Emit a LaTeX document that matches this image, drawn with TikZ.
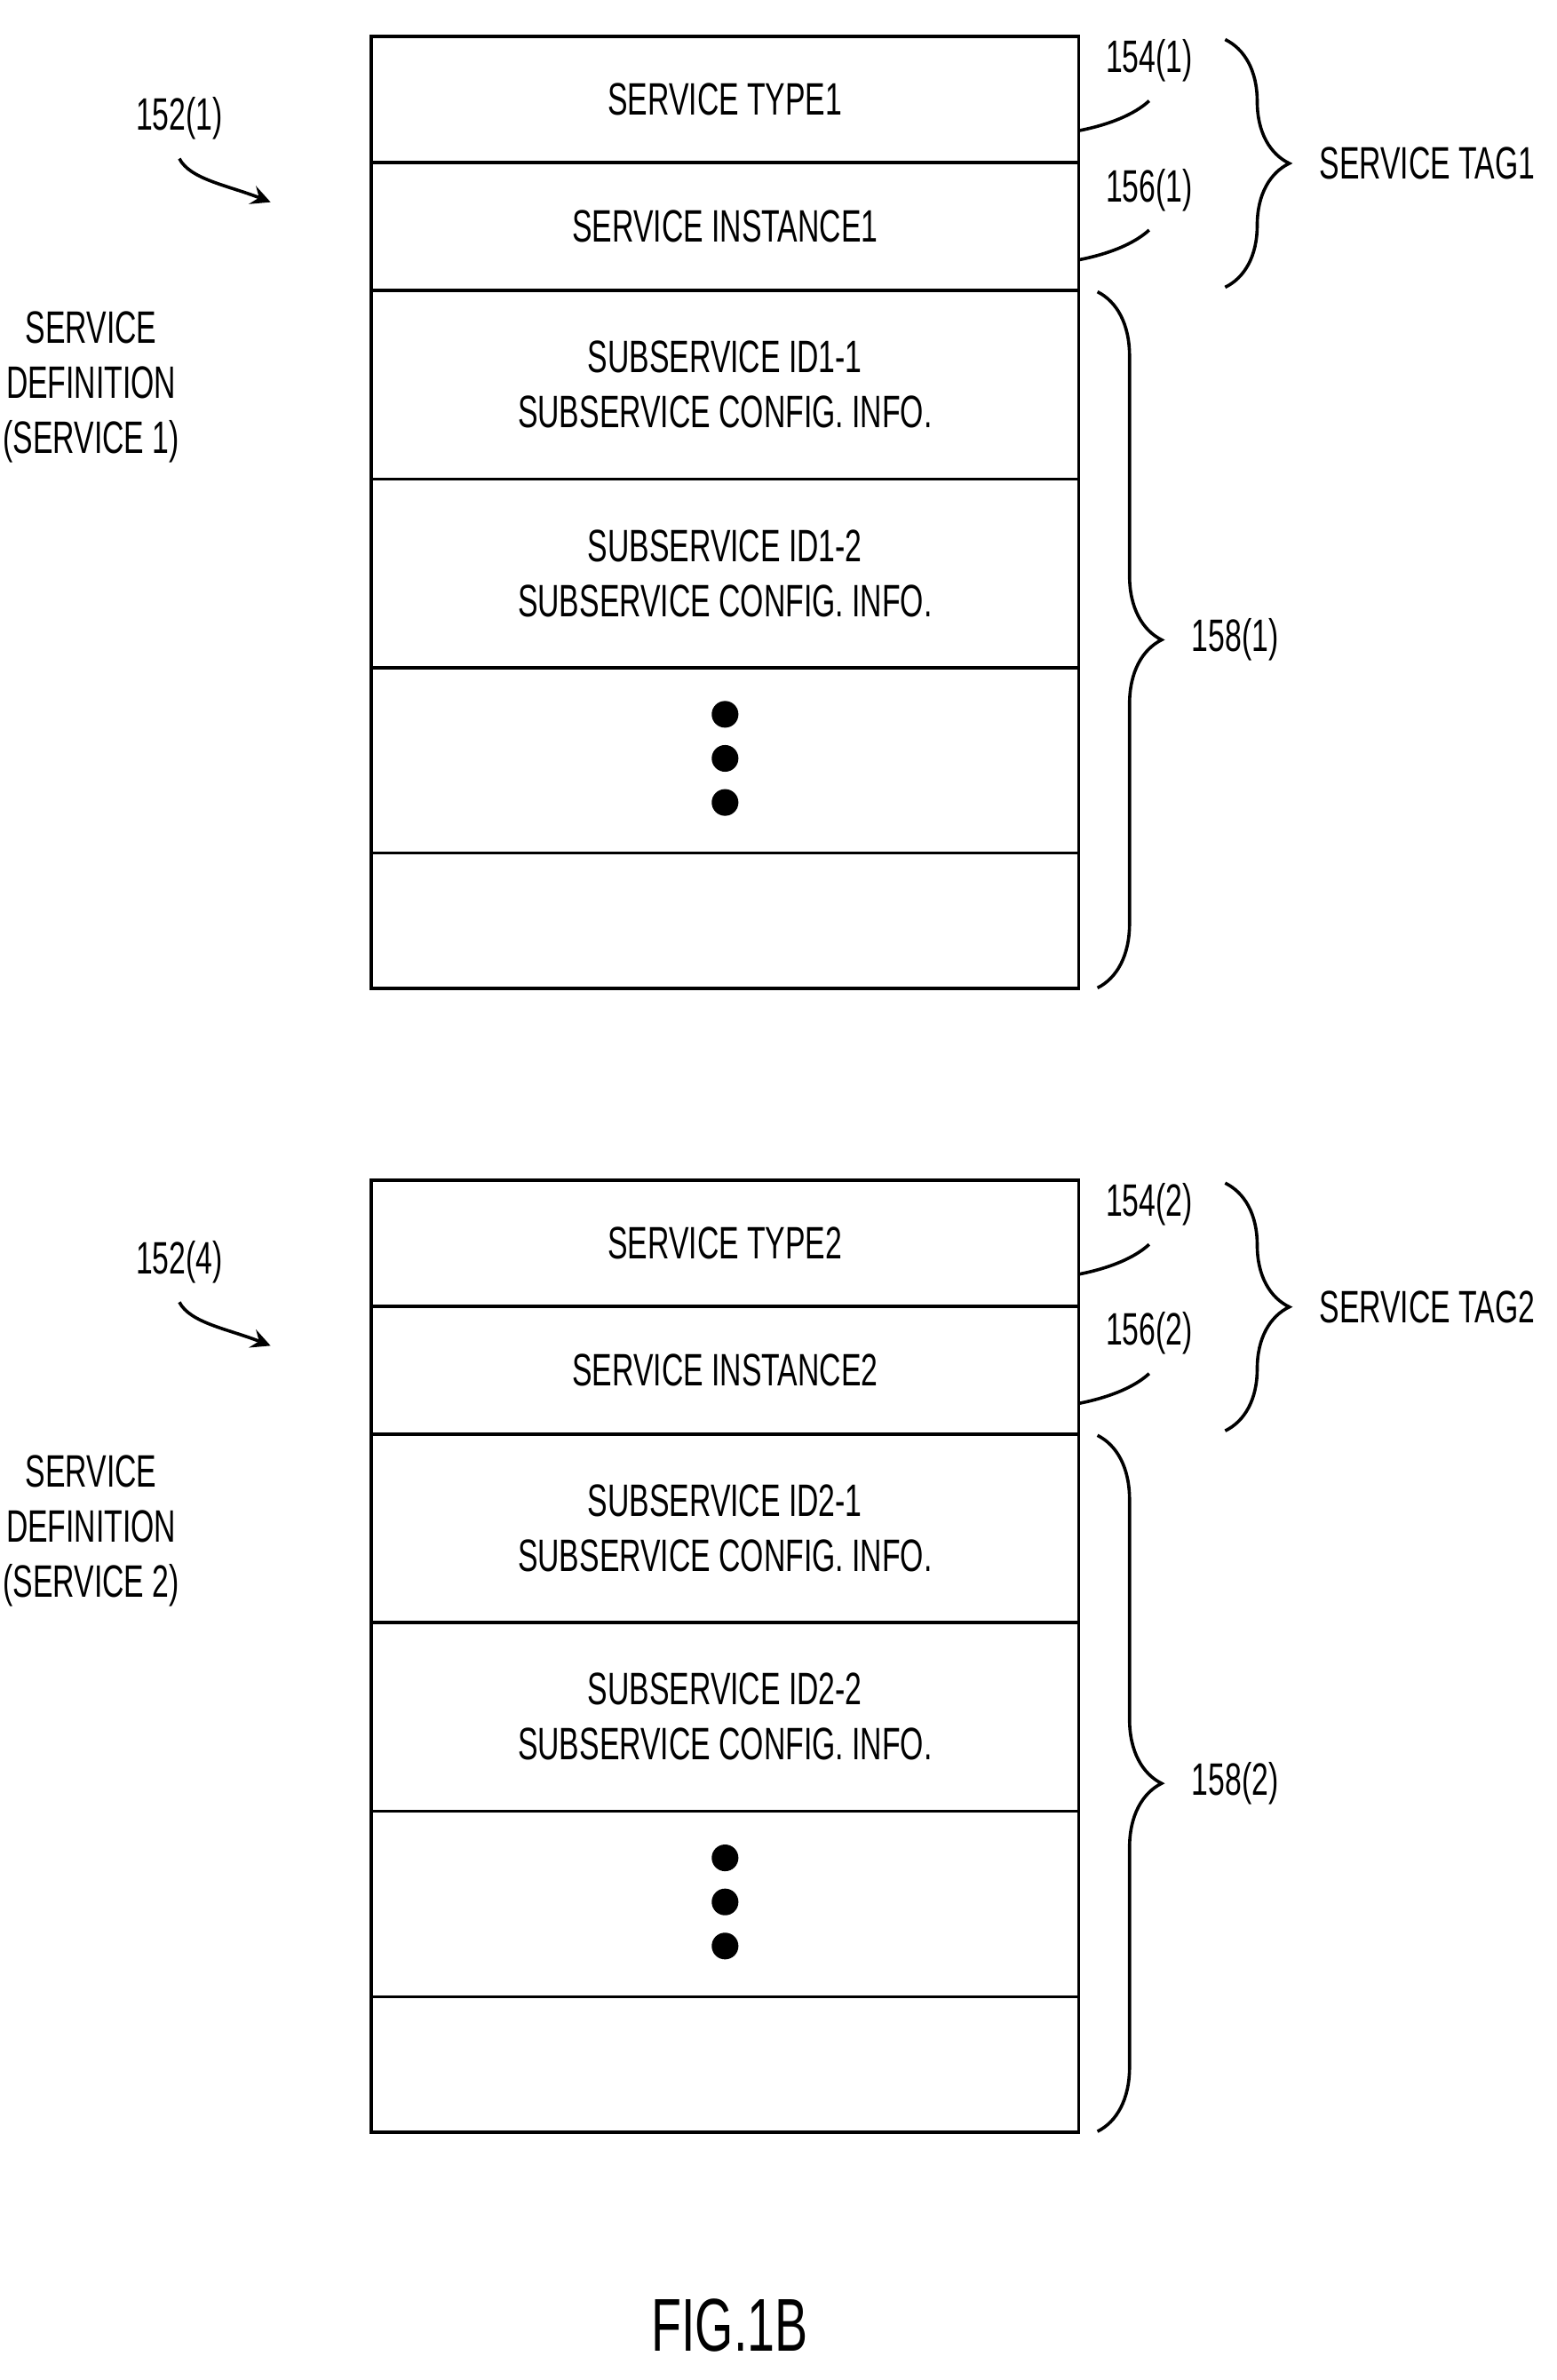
\documentclass[tikz,border=0pt]{standalone}
\usepackage{fontspec}
\setmainfont[FakeStretch=0.66]{Liberation Sans}
\usetikzlibrary{positioning,decorations.pathreplacing}
\tikzset{
  row/.style={draw,semithick,minimum width=4.65cm,inner sep=0pt,outer sep=0pt,anchor=north,align=center,font=\fontsize{8.5}{10.3}\selectfont},
  lbl/.style={font=\fontsize{8.5}{10.3}\selectfont,align=center},
  brc/.style={decoration={brace,amplitude=12pt},decorate,semithick},
  dot/.style={circle,fill,inner sep=0pt,minimum size=5pt}
}
\begin{document}
\begin{tikzpicture}[x=0.01cm,y=-0.01cm]
\useasboundingbox (0,0) rectangle (1024,1566);

\begin{scope}
\node[row,minimum height=0.83cm] (t1) at (477,24) {SERVICE TYPE1};
\node[row,minimum height=0.84cm] (i1) at (t1.south) {SERVICE INSTANCE1};
\node[row,minimum height=1.24cm] (a1) at (i1.south) {SUBSERVICE ID1-1\\SUBSERVICE CONFIG. INFO.};
\node[row,minimum height=1.24cm] (b1) at (a1.south) {SUBSERVICE ID1-2\\SUBSERVICE CONFIG. INFO.};
\node[row,minimum height=1.22cm] (c1) at (b1.south) {};
\node[row,minimum height=0.89cm] (e1) at (c1.south) {};
\node[dot] (d1) at (477,470) {};
\node[dot] (d2) at (477,499) {};
\node[dot] (d3) at (477,528) {};
\node[lbl] (n154) at (756,40) {154(1)};
\node[lbl] (n156) at (756,125) {156(1)};
\draw[semithick] (t1.east |- 0,86) .. controls (740,80) and (752,70) .. (n154.south);
\draw[semithick] (i1.east |- 0,171) .. controls (740,165) and (752,155) .. (n156.south);
\draw[brc] (806,26) -- (806,189) node[midway,right=14pt,lbl] (tag1) {SERVICE TAG1};
\draw[brc] (722,192) -- (722,650) node[midway,right=14pt,lbl] (n158) {158(1)};
\node[lbl] (n152) at (118,78) {152(1)};
\draw[semithick,-stealth] (n152.south) .. controls (125,118) and (150,122) .. (178,133);
\node[lbl] (def1) at (60,255) {SERVICE\\DEFINITION\\(SERVICE 1)};
\end{scope}

\begin{scope}[yshift=-7.52cm]
\node[row,minimum height=0.83cm] (t2) at (477,24) {SERVICE TYPE2};
\node[row,minimum height=0.84cm] (i2) at (t2.south) {SERVICE INSTANCE2};
\node[row,minimum height=1.24cm] (a2) at (i2.south) {SUBSERVICE ID2-1\\SUBSERVICE CONFIG. INFO.};
\node[row,minimum height=1.24cm] (b2) at (a2.south) {SUBSERVICE ID2-2\\SUBSERVICE CONFIG. INFO.};
\node[row,minimum height=1.22cm] (c2) at (b2.south) {};
\node[row,minimum height=0.89cm] (e2) at (c2.south) {};
\node[dot] (f1) at (477,470) {};
\node[dot] (f2) at (477,499) {};
\node[dot] (f3) at (477,528) {};
\node[lbl] (m154) at (756,40) {154(2)};
\node[lbl] (m156) at (756,125) {156(2)};
\draw[semithick] (t2.east |- 0,86) .. controls (740,80) and (752,70) .. (m154.south);
\draw[semithick] (i2.east |- 0,171) .. controls (740,165) and (752,155) .. (m156.south);
\draw[brc] (806,26) -- (806,189) node[midway,right=14pt,lbl] (tag2) {SERVICE TAG2};
\draw[brc] (722,192) -- (722,650) node[midway,right=14pt,lbl] (m158) {158(2)};
\node[lbl] (m152) at (118,78) {152(4)};
\draw[semithick,-stealth] (m152.south) .. controls (125,118) and (150,122) .. (178,133);
\node[lbl] (def2) at (60,255) {SERVICE\\DEFINITION\\(SERVICE 2)};
\end{scope}

\node[lbl,font=\fontsize{14}{16}\selectfont] (fig) at (480,1530) {FIG.1B};
\end{tikzpicture}
\end{document}
